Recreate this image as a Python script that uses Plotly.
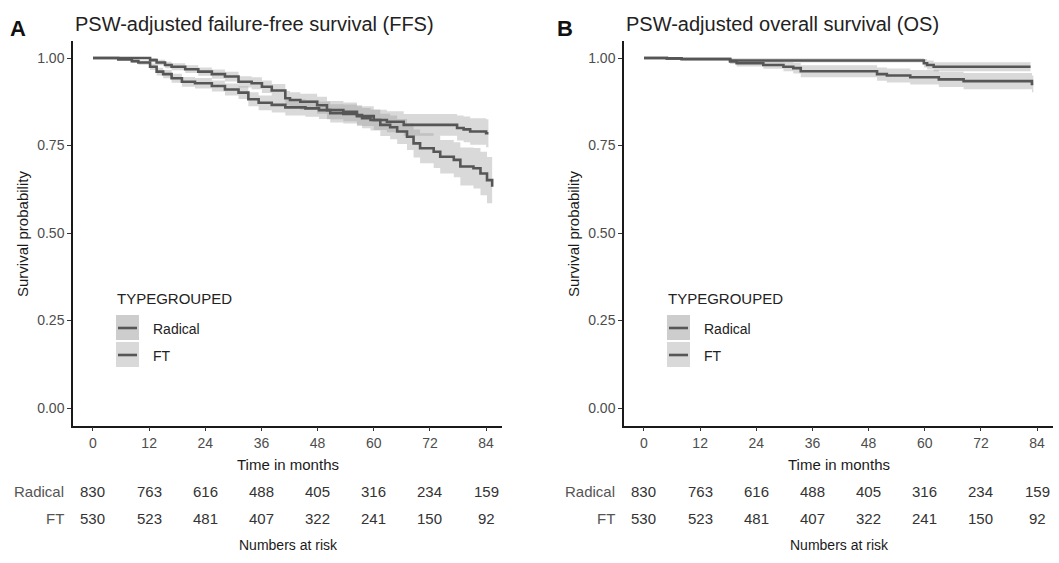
import plotly.graph_objects as go

W, H = 1059, 563

# ---------------- data ----------------
risk_times = [0, 12, 24, 36, 48, 60, 72, 84]
risk_radical = [830, 763, 616, 488, 405, 316, 234, 159]
risk_ft = [530, 523, 481, 407, 322, 241, 150, 92]
groups = ["Radical", "FT"]

# Panel A: failure-free survival
ffs_rad_t = [0, 5.4, 8.3, 9.7, 12.2, 13.6, 15.0, 16.8, 19.0, 21.8, 25.4, 28.2, 31.1, 33.2, 35.4, 38.2,
             41.1, 45.4, 48.3, 50.7, 53.5, 56.4, 60.0, 62.8, 66.4, 77.8, 79.2, 80.6, 84.0, 84.5]
ffs_rad_s = [1.0, .996, .991, .987, .975, .961, .954, .942, .932, .928, .920, .910, .901, .882, .872, .866,
             .859, .856, .851, .842, .840, .834, .823, .818, .809, .800, .796, .790, .785, .785]
ffs_rad_lo = [1.0, .993, .986, .981, .966, .950, .942, .929, .918, .913, .904, .893, .883, .862, .851, .844,
              .836, .832, .826, .816, .813, .806, .794, .788, .778, .764, .759, .752, .745, .745]
ffs_rad_hi = [1.0, .999, .996, .993, .984, .972, .966, .955, .946, .943, .936, .927, .919, .902, .893, .888,
              .882, .880, .876, .868, .867, .862, .852, .848, .840, .836, .833, .828, .825, .825]

ffs_ft_t = [0, 12.2, 13.6, 15.4, 16.8, 19.7, 22.5, 25.4, 28.2, 31.1, 33.9, 36.1, 38.2, 41.1, 42.1, 44.3,
            47.9, 50.0, 53.5, 56.4, 57.5, 59.3, 61.4, 63.5, 65.0, 67.1, 68.5, 69.9, 72.8, 74.2, 77.1, 78.5,
            81.3, 82.8, 84.2, 85.3]
ffs_ft_s = [1.0, .994, .987, .980, .975, .968, .961, .954, .947, .932, .928, .918, .907, .885, .880, .875,
            .865, .851, .846, .837, .828, .823, .809, .802, .790, .775, .756, .742, .732, .718, .709, .690,
            .685, .670, .651, .632]
ffs_ft_lo = [1.0, .988, .979, .971, .965, .957, .949, .941, .933, .916, .911, .900, .888, .864, .858, .852,
             .841, .825, .819, .809, .799, .793, .777, .768, .754, .737, .716, .699, .686, .670, .659, .636,
             .627, .608, .585, .562]
ffs_ft_hi = [1.0, 1.0, .995, .989, .985, .979, .973, .967, .961, .948, .945, .936, .926, .906, .902, .898,
             .889, .877, .873, .865, .857, .853, .841, .836, .826, .813, .796, .785, .778, .766, .759, .744,
             .743, .732, .717, .702]

# Panel B: overall survival
os_rad_t = [0, 4.9, 8.0, 18.4, 59.8, 60.5, 61.9, 82.6]
os_rad_s = [1.0, .999, .997, .993, .985, .980, .975, .975]
os_rad_lo = [1.0, .997, .993, .987, .973, .967, .962, .962]
os_rad_hi = [1.0, 1.0, 1.0, .999, .997, .993, .988, .988]

os_ft_t = [0, 4.9, 8.0, 18.4, 19.8, 25.5, 29.8, 31.9, 33.5, 49.8, 51.9, 56.9, 63.0, 68.3, 82.9, 83.2]
os_ft_s = [1.0, .999, .997, .990, .985, .980, .975, .971, .962, .954, .950, .945, .939, .934, .926, .926]
os_ft_lo = [1.0, .997, .993, .983, .976, .969, .962, .956, .945, .935, .930, .924, .917, .911, .902, .902]
os_ft_hi = [1.0, 1.0, 1.0, .997, .994, .991, .988, .986, .979, .973, .970, .966, .961, .957, .950, .950]

y_ticks = [0, 0.25, 0.5, 0.75, 1.0]
y_ticktext = ["0.00", "0.25", "0.50", "0.75", "1.00"]

# ---------------- styling ----------------
FONT = "Liberation Sans, Arial, Helvetica, sans-serif"
LINE_COL = "#565656"
RIBBON = "rgba(150,150,150,0.36)"
DARK = "#1a1a1a"
GRAY = "#4d4d4d"


def xp(px):
    return px / W


def yp(py):
    return 1 - py / H


fig = go.Figure()


def add_panel(xa, ya, curves):
    for t, s, lo, hi in curves:
        fig.add_trace(go.Scatter(x=t, y=lo, mode="lines", line=dict(width=0, shape="hv", color=RIBBON),
                                 xaxis=xa, yaxis=ya, hoverinfo="skip", showlegend=False))
        fig.add_trace(go.Scatter(x=t, y=hi, mode="lines", line=dict(width=0, shape="hv", color=RIBBON),
                                 fill="tonexty", fillcolor=RIBBON,
                                 xaxis=xa, yaxis=ya, hoverinfo="skip", showlegend=False))
    for t, s, lo, hi in curves:
        fig.add_trace(go.Scatter(x=t, y=s, mode="lines", line=dict(width=2.6, shape="hv", color=LINE_COL),
                                 xaxis=xa, yaxis=ya, showlegend=False))


add_panel("x", "y", [(ffs_rad_t, ffs_rad_s, ffs_rad_lo, ffs_rad_hi),
                     (ffs_ft_t, ffs_ft_s, ffs_ft_lo, ffs_ft_hi)])
add_panel("x2", "y2", [(os_rad_t, os_rad_s, os_rad_lo, os_rad_hi),
                       (os_ft_t, os_ft_s, os_ft_lo, os_ft_hi)])

xrange = [-4.27, 87.4]
yrange = [-0.05, 1.05]
ydom = [yp(425.5), yp(40.5)]

common_x = dict(range=xrange, tickvals=risk_times, ticks="outside", ticklen=4, tickcolor="#333333",
                tickwidth=1, showline=True, linecolor=DARK, linewidth=1.5, showgrid=False, zeroline=False,
                tickfont=dict(family=FONT, size=14, color=GRAY), fixedrange=True)
common_y = dict(range=yrange, tickvals=y_ticks, ticktext=y_ticktext, ticks="outside", ticklen=4,
                tickcolor="#333333", tickwidth=1, showline=True, linecolor=DARK, linewidth=1.5,
                showgrid=False, zeroline=False, tickfont=dict(family=FONT, size=14, color=GRAY),
                domain=ydom, fixedrange=True)

fig.update_layout(
    width=W, height=H,
    margin=dict(l=0, r=0, t=0, b=0),
    paper_bgcolor="white", plot_bgcolor="white",
    showlegend=False,
    xaxis=dict(domain=[xp(73), xp(502)], anchor="y", **common_x),
    yaxis=dict(anchor="x", **common_y),
    xaxis2=dict(domain=[xp(624), xp(1053)], anchor="y2", **common_x),
    yaxis2=dict(anchor="x2", **common_y),
)

ann = []
shapes = []


def text(x, y, s, size, color=DARK, xanchor="center", bold=False, angle=0, xref="paper"):
    ann.append(dict(x=x if xref != "paper" else xp(x), y=yp(y), xref=xref, yref="paper", text=s,
                    showarrow=False, xanchor=xanchor, yanchor="middle", textangle=angle,
                    font=dict(family=FONT, size=size, color=color,
                              weight="bold" if bold else "normal")))


panels = [
    dict(dx=0, xref="x", letter="A", title="PSW-adjusted failure-free survival (FFS)"),
    dict(dx=551, xref="x2", letter="B", title="PSW-adjusted overall survival (OS)"),
]

for p in panels:
    dx = p["dx"]
    text(18 + dx - (4 if dx else 0), 28, p["letter"], 22, "#111111", bold=True)
    text(73 + dx, 24, p["title"], 20, "#222222", xanchor="left")
    text(22 + dx, 234, "Survival probability", 15, DARK, angle=-90)
    text(287.5 + dx, 464, "Time in months", 15, DARK)
    text(288 + dx, 545, "Numbers at risk", 14, DARK)
    # risk table
    text(66 + dx, 491, groups[0], 15, "#555555", xanchor="right")
    text(66 + dx, 518, groups[1], 15, "#555555", xanchor="right")
    for t, a, b in zip(risk_times, risk_radical, risk_ft):
        text(t, 491, str(a), 15, "#333333", xref=p["xref"])
        text(t, 518, str(b), 15, "#333333", xref=p["xref"])
    # legend
    lx = 115 + dx
    text(lx, 298, "TYPEGROUPED", 15, "#222222", xanchor="left")
    key_fill = ["#cdcdcd", "#d9d9d9"]
    for i, g in enumerate(groups):
        top = 315 + i * 27
        shapes.append(dict(type="rect", xref="paper", yref="paper", x0=xp(lx + 1), x1=xp(lx + 24),
                           y0=yp(top), y1=yp(top + 25), fillcolor=key_fill[i], line=dict(width=0),
                           layer="below"))
        shapes.append(dict(type="line", xref="paper", yref="paper", x0=xp(lx + 3), x1=xp(lx + 22),
                           y0=yp(top + 13), y1=yp(top + 13), line=dict(color=LINE_COL, width=2.6)))
        text(lx + 36, top + 14, g, 14, "#222222", xanchor="left")

fig.update_layout(annotations=ann, shapes=shapes)

fig.write_html("out.html", config={"displayModeBar": False},
               post_script="document.body.style.margin='0px';")
